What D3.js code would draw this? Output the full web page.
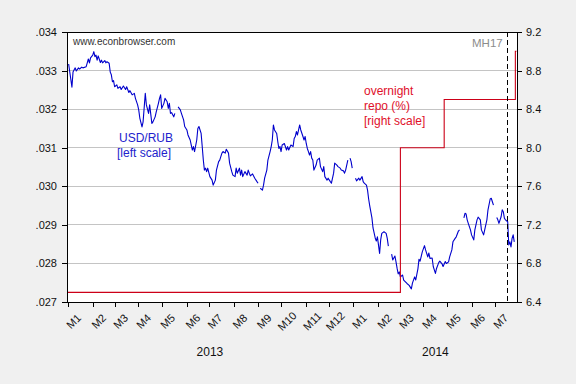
<!DOCTYPE html>
<html>
<head>
<meta charset="utf-8">
<script src="https://cdn.jsdelivr.net/npm/d3@7"></script>
<style>
  body { margin: 0; background: #f0f0f0; }
  svg { display: block; font-family: "Liberation Sans", Arial, sans-serif; }
</style>
</head>
<body>
<div id="chart"></div>
<script>
// USD/RUB, daily (business days); null = missing obs
const usdRub = [
  ["2013-01-02", .03317], ["2013-01-07", .03257], ["2013-01-08", .03296], ["2013-01-10", .03307],
  ["2013-01-11", .03299], ["2013-01-15", .03307], ["2013-01-16", .03304], ["2013-01-18", .03309],
  ["2013-01-21", .03307], ["2013-01-24", .03310], ["2013-01-25", .03320], ["2013-01-28", .03330],
  ["2013-01-29", .03320], ["2013-01-30", .03333], ["2013-02-01", .03340], ["2013-02-04", .03349],
  ["2013-02-05", .03336], ["2013-02-06", .03340], ["2013-02-07", .03327], ["2013-02-08", .03338],
  ["2013-02-12", .03321], ["2013-02-13", .03327], ["2013-02-14", .03320], ["2013-02-18", .03326],
  ["2013-02-19", .03320], ["2013-02-20", .03323], ["2013-02-22", .03319], ["2013-02-25", .03296],
  ["2013-02-26", .03289], ["2013-02-27", .03271], ["2013-02-28", .03274], ["2013-03-01", .03258],
  ["2013-03-05", .03263], ["2013-03-06", .03254], ["2013-03-08", .03258], ["2013-03-11", .03251],
  ["2013-03-13", .03260], ["2013-03-15", .03251], ["2013-03-18", .03258], ["2013-03-20", .03243],
  ["2013-03-21", .03248], ["2013-03-25", .03237], ["2013-03-27", .03241], ["2013-03-28", .03228],
  ["2013-04-01", .03211], ["2013-04-02", .03198], ["2013-04-03", .03177], ["2013-04-05", .03154],
  ["2013-04-08", .03167], ["2013-04-10", .03241], ["2013-04-11", .03211], ["2013-04-15", .03189],
  ["2013-04-16", .03211], ["2013-04-18", .03163], ["2013-04-19", .03167], ["2013-04-23", .03180],
  ["2013-04-24", .03193], ["2013-04-26", .03215], ["2013-04-29", .03228], ["2013-04-30", .03237],
  ["2013-05-01", .03202], ["2013-05-03", .03215], ["2013-05-06", .03228], ["2013-05-08", .03219],
  ["2013-05-09", .03202], ["2013-05-10", .03215], ["2013-05-13", .03189], ["2013-05-14", .03191],
  ["2013-05-16", .03180], ["2013-05-17", .03189], ["2013-05-20", null],   ["2013-05-22", .03206],
  ["2013-05-24", .03198], ["2013-05-27", .03189], ["2013-05-29", .03172], ["2013-05-30", .03155],
  ["2013-06-03", .03146], ["2013-06-04", .03133], ["2013-06-06", .03120], ["2013-06-07", .03107],
  ["2013-06-10", .03094], ["2013-06-11", .03103], ["2013-06-12", .03090], ["2013-06-14", .03120],
  ["2013-06-17", .03150], ["2013-06-18", .03155], ["2013-06-20", .03137], ["2013-06-21", .03103],
  ["2013-06-24", .03068], ["2013-06-25", .03042], ["2013-06-26", .03047], ["2013-06-27", .03038],
  ["2013-06-28", .03047], ["2013-07-02", .03025], ["2013-07-04", .03016], ["2013-07-05", .03003],
  ["2013-07-09", .03016], ["2013-07-10", .03042], ["2013-07-12", .03064], ["2013-07-15", .03068],
  ["2013-07-17", .03086], ["2013-07-18", .03090], ["2013-07-22", .03086], ["2013-07-23", .03096],
  ["2013-07-25", .03086], ["2013-07-26", .03060], ["2013-07-30", .03038], ["2013-07-31", .03029],
  ["2013-08-02", .03025], ["2013-08-05", .03047], ["2013-08-06", .03034], ["2013-08-08", .03047],
  ["2013-08-09", .03029], ["2013-08-12", .03042], ["2013-08-13", .03025], ["2013-08-15", .03038],
  ["2013-08-19", .03029], ["2013-08-20", .03042], ["2013-08-21", .03034], ["2013-08-22", .03027],
  ["2013-08-26", .03032], ["2013-08-28", .03021], ["2013-08-30", .03012], ["2013-09-02", .03008],
  ["2013-09-03", null],   ["2013-09-04", .02995], ["2013-09-06", .02990], ["2013-09-09", .03003],
  ["2013-09-10", .03021], ["2013-09-12", .03042], ["2013-09-13", .03068], ["2013-09-17", .03090],
  ["2013-09-18", .03103], ["2013-09-19", .03120], ["2013-09-20", .03159], ["2013-09-23", .03146],
  ["2013-09-25", .03137], ["2013-09-26", .03116], ["2013-09-27", .03098], ["2013-09-30", .03103],
  ["2013-10-01", .03090], ["2013-10-02", .03107], ["2013-10-04", .03111], ["2013-10-08", .03094],
  ["2013-10-09", .03103], ["2013-10-10", .03094], ["2013-10-14", .03107], ["2013-10-16", .03103],
  ["2013-10-17", .03124], ["2013-10-18", .03129], ["2013-10-21", .03142], ["2013-10-22", .03133],
  ["2013-10-23", .03146], ["2013-10-24", .03159], ["2013-10-25", .03146], ["2013-10-29", .03129],
  ["2013-10-30", .03120], ["2013-10-31", .03129], ["2013-11-01", .03111], ["2013-11-04", .03098],
  ["2013-11-05", .03090], ["2013-11-06", .03081], ["2013-11-07", .03090], ["2013-11-08", .03073],
  ["2013-11-11", .03068], ["2013-11-12", .03042], ["2013-11-14", .03055], ["2013-11-15", .03068],
  ["2013-11-19", .03073], ["2013-11-20", .03051], ["2013-11-22", .03038], ["2013-11-25", .03051],
  ["2013-11-26", .03025], ["2013-11-28", .03016], ["2013-11-29", .03021], ["2013-12-03", .03012],
  ["2013-12-04", .03008], ["2013-12-06", .03034], ["2013-12-09", .03060], ["2013-12-11", .03055],
  ["2013-12-12", .03051], ["2013-12-16", .03047], ["2013-12-17", .03042], ["2013-12-19", .03040],
  ["2013-12-20", .03034], ["2013-12-23", .03042], ["2013-12-25", .03068], ["2013-12-26", null],
  ["2013-12-27", .03073], ["2013-12-30", .03064], ["2013-12-31", .03047], ["2014-01-02", null],
  ["2014-01-03", .03021], ["2014-01-06", .03014], ["2014-01-08", .03021], ["2014-01-09", .03016],
  ["2014-01-13", .03025], ["2014-01-14", .03012], ["2014-01-15", .03008], ["2014-01-17", .03003],
  ["2014-01-20", .02990], ["2014-01-21", .02967], ["2014-01-22", .02949], ["2014-01-24", .02918],
  ["2014-01-27", .02892], ["2014-01-29", .02866], ["2014-01-30", .02858], ["2014-01-31", .02869],
  ["2014-02-04", .02826], ["2014-02-05", .02861], ["2014-02-06", .02878], ["2014-02-10", .02882],
  ["2014-02-12", .02878], ["2014-02-13", .02865], ["2014-02-14", .02845], ["2014-02-17", null],
  ["2014-02-19", .02824], ["2014-02-20", .02809], ["2014-02-24", .02819], ["2014-02-25", .02804],
  ["2014-02-26", .02787], ["2014-02-27", .02773], ["2014-02-28", .02778], ["2014-03-03", .02765],
  ["2014-03-05", .02770], ["2014-03-06", .02757], ["2014-03-11", .02748], ["2014-03-13", .02743],
  ["2014-03-17", .02734], ["2014-03-18", .02749], ["2014-03-20", .02765], ["2014-03-21", .02757],
  ["2014-03-25", .02786], ["2014-03-26", .02811], ["2014-03-27", .02806], ["2014-03-31", .02830],
  ["2014-04-02", .02846], ["2014-04-03", .02835], ["2014-04-07", .02817], ["2014-04-08", .02827],
  ["2014-04-09", .02813], ["2014-04-11", .02814], ["2014-04-14", .02792], ["2014-04-16", .02774],
  ["2014-04-17", .02787], ["2014-04-21", .02802], ["2014-04-22", .02806], ["2014-04-24", .02799],
  ["2014-04-25", .02792], ["2014-04-29", .02805], ["2014-04-30", .02800], ["2014-05-02", .02804],
  ["2014-05-05", .02817], ["2014-05-07", .02835], ["2014-05-08", .02856], ["2014-05-12", .02865],
  ["2014-05-13", .02869], ["2014-05-15", .02884], ["2014-05-16", .02887], ["2014-05-20", null],
  ["2014-05-22", .02918], ["2014-05-23", .02930], ["2014-05-26", .02928], ["2014-05-27", .02913],
  ["2014-05-28", .02904], ["2014-05-30", .02887], ["2014-06-02", .02874], ["2014-06-04", .02861],
  ["2014-06-05", .02887], ["2014-06-09", .02913], ["2014-06-10", .02920], ["2014-06-12", .02913],
  ["2014-06-13", .02887], ["2014-06-17", .02874], ["2014-06-18", .02887], ["2014-06-19", .02900],
  ["2014-06-20", .02913], ["2014-06-23", .02939], ["2014-06-25", .02967], ["2014-06-26", .02969],
  ["2014-06-27", .02960], ["2014-06-30", .02951], ["2014-07-02", null],   ["2014-07-03", .02919],
  ["2014-07-04", .02913], ["2014-07-07", .02904], ["2014-07-09", .02921], ["2014-07-10", .02939],
  ["2014-07-11", .02934], ["2014-07-14", .02917], ["2014-07-15", .02913], ["2014-07-17", .02908],
  ["2014-07-18", .02848], ["2014-07-21", .02856], ["2014-07-22", .02843], ["2014-07-23", .02865],
  ["2014-07-24", .02874], ["2014-07-25", .02856]
];

// overnight repo rate (%), step changes
const repoRate = [
  ["2013-01-01", 6.5], ["2014-03-03", 8.0], ["2014-04-28", 8.5], ["2014-07-28", 9.0], ["2014-07-29", 9.0]
];

const leftTicks = [.027, .028, .029, .030, .031, .032, .033, .034];
const rightTicks = [6.4, 6.8, 7.2, 7.6, 8.0, 8.4, 8.8, 9.2];
const years = ["2013", "2014"];
const mh17 = "2014-07-17";
const firstDay = "2013-01-01", lastDay = "2014-07-29";

const W = 576, H = 384;
const plot = { left: 67, right: 517, top: 32, bottom: 302 };
const blue = "#0000cc", red = "#cc0018";

const parse = d3.utcParse("%Y-%m-%d");
// business-day observation index, as in the workfile
const bdays = d3.utcDay.range(parse(firstDay), d3.utcDay.offset(parse(lastDay), 1))
  .filter(d => d.getUTCDay() % 6 != 0);
const obs = s => d3.bisectLeft(bdays, parse(s));

const x = d3.scaleLinear([-0.5, bdays.length - 0.5], [plot.left, plot.right]);
const y = d3.scaleLinear([leftTicks[0], leftTicks[leftTicks.length - 1]], [plot.bottom, plot.top]);
const y2 = d3.scaleLinear([rightTicks[0], rightTicks[rightTicks.length - 1]], [plot.bottom, plot.top]);

const months = d3.utcMonth.range(parse(firstDay), d3.utcDay.offset(parse(lastDay), 1));
const monthObs = months.map(d => d3.bisectLeft(bdays, d));

const svg = d3.select("#chart").append("svg")
  .attr("width", W)
  .attr("height", H);

svg.append("rect").attr("width", W).attr("height", H).attr("fill", "#f0f0f0");
svg.append("rect")
  .attr("x", plot.left).attr("y", plot.top)
  .attr("width", plot.right - plot.left).attr("height", plot.bottom - plot.top)
  .attr("fill", "white");

// grid
svg.append("g")
  .attr("stroke", "#c4c4c4")
  .attr("shape-rendering", "crispEdges")
  .selectAll("line")
  .data(leftTicks.slice(1, -1))
  .join("line")
  .attr("x1", plot.left).attr("x2", plot.right)
  .attr("y1", d => y(d)).attr("y2", d => y(d));

// lines
const rubLine = d3.line()
  .defined(d => d[1] != null)
  .x(d => x(obs(d[0])))
  .y(d => y(d[1]));

const repoLine = d3.line()
  .curve(d3.curveStepAfter)
  .x(d => x(obs(d[0])))
  .y(d => y2(d[1]));

svg.append("path")
  .datum(usdRub)
  .attr("fill", "none")
  .attr("stroke", blue)
  .attr("stroke-width", 1.1)
  .attr("stroke-linejoin", "round")
  .attr("d", rubLine);

svg.append("path")
  .datum(repoRate)
  .attr("fill", "none")
  .attr("stroke", red)
  .attr("stroke-width", 1.1)
  .attr("d", repoLine);

// MH17 marker
svg.append("line")
  .attr("x1", x(obs(mh17))).attr("x2", x(obs(mh17)))
  .attr("y1", plot.top).attr("y2", plot.bottom)
  .attr("stroke", "black")
  .attr("stroke-dasharray", "5,3")
  .attr("shape-rendering", "crispEdges");

svg.append("text")
  .attr("x", x(obs(mh17)) - 5).attr("y", 47)
  .attr("text-anchor", "end")
  .attr("font-size", 11.5)
  .attr("fill", "#8c8c8c")
  .text("MH17");

// frame
svg.append("rect")
  .attr("x", plot.left).attr("y", plot.top)
  .attr("width", plot.right - plot.left).attr("height", plot.bottom - plot.top)
  .attr("fill", "none")
  .attr("stroke", "black")
  .attr("shape-rendering", "crispEdges");

// axes
const styleAxis = g => g
  .attr("font-family", null)
  .attr("font-size", 11)
  .call(g => g.select(".domain").remove())
  .call(g => g.selectAll("line").attr("shape-rendering", "crispEdges"))
  .call(g => g.selectAll("text").attr("fill", "#111"));

svg.append("g")
  .attr("transform", `translate(${plot.left},0)`)
  .call(d3.axisLeft(y).tickValues(leftTicks).tickSize(5).tickPadding(5)
    .tickFormat(d => d3.format(".3f")(d).slice(1)))
  .call(styleAxis);

svg.append("g")
  .attr("transform", `translate(${plot.right},0)`)
  .call(d3.axisRight(y2).tickValues(rightTicks).tickSize(5).tickPadding(4)
    .tickFormat(d3.format(".1f")))
  .call(styleAxis);

svg.append("g")
  .attr("transform", `translate(0,${plot.bottom})`)
  .call(d3.axisBottom(x).tickValues(monthObs).tickSize(5).tickFormat(""))
  .call(styleAxis);

svg.append("g")
  .attr("font-size", 11)
  .attr("fill", "#111")
  .selectAll("text")
  .data(months)
  .join("text")
  .attr("text-anchor", "middle")
  .attr("transform", (d, i) => `translate(${x(monthObs[i]) + 8.8},324) rotate(-45)`)
  .text(d => "M" + (d.getUTCMonth() + 1));

// year labels, centred under each year's span
svg.append("g")
  .attr("font-size", 12)
  .attr("fill", "#111")
  .attr("text-anchor", "middle")
  .selectAll("text")
  .data(years)
  .join("text")
  .attr("x", yr => {
    const a = x(obs(yr + "-01-01"));
    const b = Math.min(x(obs(yr + "-12-31")), plot.right + 13);
    return (a + b) / 2;
  })
  .attr("y", 356)
  .text(yr => yr);

// annotations
svg.append("text")
  .attr("x", 73).attr("y", 45)
  .attr("font-size", 10)
  .attr("fill", "#333")
  .text("www.econbrowser.com");

const rubNote = svg.append("text")
  .attr("font-size", 12)
  .attr("fill", "#2222cc");
rubNote.append("tspan").attr("x", 119).attr("y", 142).text("USD/RUB");
rubNote.append("tspan").attr("x", 117).attr("y", 157).text("[left scale]");

const repoNote = svg.append("text")
  .attr("font-size", 12)
  .attr("fill", "#e0102a");
repoNote.append("tspan").attr("x", 364).attr("y", 95).text("overnight");
repoNote.append("tspan").attr("x", 364).attr("y", 110).text("repo (%)");
repoNote.append("tspan").attr("x", 364).attr("y", 125).text("[right scale]");
</script>
</body>
</html>
